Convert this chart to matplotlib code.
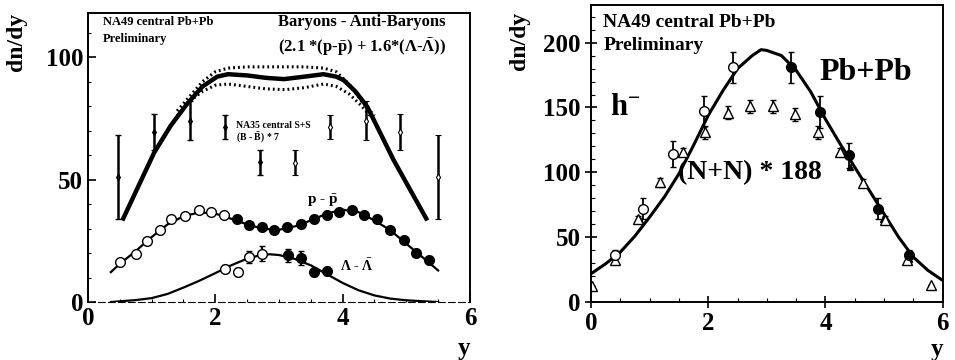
import numpy as np
import matplotlib
matplotlib.use("Agg")
import matplotlib.pyplot as plt

plt.rcParams['font.family'] = ['Liberation Serif', 'DejaVu Serif']
plt.rcParams['font.weight'] = 'bold'
plt.rcParams['mathtext.fontset'] = 'custom'
plt.rcParams['mathtext.rm'] = 'Liberation Serif:bold'
plt.rcParams['mathtext.it'] = 'Liberation Serif:bold'
plt.rcParams['mathtext.bf'] = 'Liberation Serif:bold'
plt.rcParams['mathtext.default'] = 'rm'

# ---------------- left panel: baryons - anti-baryons ----------------
# sum curve 2.1*(p-pbar) + 1.6*(L-Lbar)
sum_x = [0.54, 1.04, 1.3, 1.56, 1.8, 2.03, 2.2, 2.5, 2.8, 3.08, 3.4, 3.7, 3.9, 4.02, 4.2, 4.39, 4.8, 5.33]
sum_y = [33.3, 61, 72, 81, 88, 92, 93, 92.5, 91.5, 91, 92, 93, 92, 90.5, 86, 79.6, 58, 33.3]
band_x = [1.4, 1.6, 1.8, 2.0, 2.2, 2.5, 2.8, 3.1, 3.4, 3.7, 3.9, 4.1, 4.3, 4.5]
band_hi = [78, 84, 90, 94, 95.5, 96, 96, 96, 96, 95.5, 94, 89, 82, 76]
band_lo = [76, 82, 86, 88.5, 89, 88, 87, 86.7, 87.5, 89, 88, 85, 80, 74]

# NA35 S+S (B - Bbar) * 7
na35_x = [0.47, 1.04, 1.6, 2.16, 2.7]
na35_y = [51, 69.4, 74, 71.4, 57]
na35_err = [17, 7.5, 8, 5, 5]
na35r_x = [3.25, 3.8, 4.36, 4.9, 5.5]
na35r_y = [56.9, 71.4, 74, 69.4, 51]
na35r_err = [5, 5, 8, 7.5, 17]

# p - pbar
pp_open_x = [0.50, 0.75, 0.92, 1.13, 1.31, 1.52, 1.74, 1.93, 2.14]
pp_open_y = [16.3, 19.5, 24.9, 29.5, 34.0, 35.0, 37.4, 36.7, 35.4]
pp_fill_x = [2.34, 2.53, 2.73, 2.92, 3.13, 3.34, 3.55, 3.75, 3.94, 4.14, 4.34, 4.54, 4.75, 4.96, 5.15, 5.36]
pp_fill_y = [34.0, 31.3, 30.6, 29.3, 30.6, 31.7, 34.0, 35.4, 36.7, 37.7, 35.4, 34.0, 29.5, 25.4, 20.0, 17.0]
pp_fit_x = [0.36, 0.5, 0.75, 1.0, 1.25, 1.5, 1.75, 2.0, 2.25, 2.5, 2.75, 3.0, 3.25, 3.5,
            3.75, 4.0, 4.25, 4.5, 4.75, 5.0, 5.25, 5.5]
pp_fit_y = [12.2, 15.6, 20.8, 26.5, 31.7, 35.0, 36.6, 36.1, 34.0, 31.7, 29.9, 29.5, 30.9, 33.3,
            36.1, 37.7, 36.7, 33.3, 29.3, 23.8, 18.4, 12.9]

# Lambda - Lambdabar
la_open_x = [2.16, 2.35, 2.53, 2.74]
la_open_y = [13.6, 12.2, 18.4, 19.7]
la_open_err = [1.5, 1.5, 2.5, 3.0]
la_fill_x = [3.14, 3.34, 3.55, 3.75]
la_fill_y = [19.0, 18.1, 12.2, 12.7]
la_fill_err = [2.8, 2.8, 1.5, 1.5]
la_fit_x = [0.36, 0.75, 1.0, 1.25, 1.5, 1.75, 2.0, 2.25, 2.5, 2.7, 2.85, 3.0, 3.25, 3.5,
            3.75, 4.0, 4.25, 4.5, 4.75, 5.0, 5.5]
la_fit_y = [0.0, 0.8, 1.6, 3.3, 5.9, 8.7, 11.8, 15.0, 17.7, 19.1, 19.5, 19.2, 17.6, 15.0,
            11.4, 7.8, 4.8, 2.7, 1.4, 0.7, 0.0]

# ---------------- right panel: negative hadrons ----------------
h_fit_x = [0.0, 0.25, 0.5, 0.75, 1.0, 1.25, 1.5, 1.75, 2.0, 2.25, 2.5, 2.75, 2.9, 3.0,
           3.25, 3.5, 3.75, 4.0, 4.25, 4.5, 4.75, 5.0, 5.25, 5.5, 5.75, 6.0]
h_fit_y = [21.9, 29.6, 38.6, 51, 65.6, 81, 99, 121, 144, 163, 180, 190, 194.6, 194,
           190, 178.7, 162, 141, 122, 104, 86, 68, 50, 34.7, 24.4, 16.7]
h_open_x = [0.41, 0.89, 1.4, 1.93, 2.43]
h_open_y = [36, 72, 114, 147, 181]
h_open_err = [4, 8, 10, 12, 12]
h_fill_x = [3.41, 3.91, 4.41, 4.9, 5.42]
h_fill_y = [181, 146.5, 113, 72, 36]
h_fill_err = [12, 12, 10, 8, 4]
nn_x = [0.01, 0.4, 0.8, 1.18, 1.56, 1.95, 2.33, 2.71, 3.1, 3.48, 3.87, 4.25, 4.64, 5.02, 5.4, 5.81]
nn_y = [12, 32.6, 63.7, 92.5, 115.7, 131, 145.8, 151, 151, 144.7, 131, 115.7, 91.8, 63.5, 32.6, 12.9]
nn_err = [0, 3, 3, 3, 3, 5, 5, 5, 5, 5, 5, 3, 3, 3, 3, 0]
nnf_x = [0.41, 0.84, 1.2, 4.42, 4.98, 5.42]
nnf_y = [33, 63, 91, 104, 64, 33]

fig = plt.figure(figsize=(9.55, 3.6), dpi=100)
ax1 = fig.add_axes([0.0921, 0.161, 0.400, 0.803])
ax2 = fig.add_axes([0.619, 0.161, 0.368, 0.825])

# left
ax1.plot(sum_x, sum_y, color='black', lw=3.2, solid_capstyle='butt')
ax1.plot(band_x, band_hi, color='black', lw=2.2, ls=(0, (0.6, 1.0)))
ax1.plot(band_x, band_lo, color='black', lw=2.2, ls=(0, (0.6, 1.0)))
ax1.errorbar(na35_x, na35_y, yerr=na35_err, fmt='d', ms=3, color='black', mfc='black',
             elinewidth=1.8, capsize=2)
ax1.errorbar(na35r_x, na35r_y, yerr=na35r_err, fmt='d', ms=3.5, color='black', mfc='white',
             elinewidth=1.8, capsize=2, mew=0.8)
ax1.plot(pp_fit_x, pp_fit_y, color='black', lw=1.6)
ax1.plot(pp_open_x, pp_open_y, 'o', ms=7, mfc='white', mec='black', mew=1.0)
ax1.plot(pp_fill_x, pp_fill_y, 'o', ms=7, color='black')
ax1.plot(la_fit_x, la_fit_y, color='black', lw=1.6)
ax1.errorbar(la_open_x, la_open_y, yerr=la_open_err, fmt='o', ms=7, mfc='white', mec='black',
             color='black', capsize=2.5, mew=1.0)
ax1.errorbar(la_fill_x, la_fill_y, yerr=la_fill_err, fmt='o', ms=7, color='black', capsize=2.5)

ax1.set_xlim(0, 6)
ax1.set_ylim(0, 118)
ax1.set_xticks([0, 2, 4, 6])
ax1.set_yticks([0, 50, 100])
ax1.set_xticks(np.arange(0, 6.01, 0.5), minor=True)
ax1.set_yticks(np.arange(0, 118, 10), minor=True)
ax1.tick_params(direction='in', length=6, width=1.2, labelsize=18)
ax1.tick_params(which='minor', direction='in', length=2, width=0.8)
ax1.set_ylabel('dn/dy', fontsize=17, fontweight='bold')
ax1.yaxis.set_label_coords(-0.16, 0.9)
ax1.set_xlabel('y', fontsize=18, fontweight='bold')
ax1.xaxis.set_label_coords(0.985, -0.12)
for s in ax1.spines.values():
    s.set_linewidth(1.4)
ax1.spines['bottom'].set_linestyle((0, (6, 3)))
ax1.spines['bottom'].set_linewidth(0.8)

ax1.text(0.04, 0.969, 'NA49 central Pb+Pb', transform=ax1.transAxes, fontsize=9, va='center')
ax1.text(0.04, 0.91, 'Preliminary', transform=ax1.transAxes, fontsize=9, va='center')
ax1.text(0.717, 0.969, 'Baryons - Anti-Baryons', transform=ax1.transAxes, fontsize=12,
         ha='center', va='center')
ax1.text(0.717, 0.882, r'(2.1 *(p-$\bar{p}$) + 1.6*($\Lambda$-$\bar{\Lambda}$))',
         transform=ax1.transAxes, fontsize=12, ha='center', va='center')
ax1.text(2.32, 72, 'NA35 central S+S', fontsize=7, va='center')
ax1.text(2.32, 67, r'(B - $\bar{B}$) * 7', fontsize=7, va='center')
ax1.text(3.44, 41.5, r'p - $\bar{p}$', fontsize=11, va='center')
ax1.text(3.96, 15, r'$\Lambda$ - $\bar{\Lambda}$', fontsize=10, va='center')

# right
ax2.plot(h_fit_x, h_fit_y, color='black', lw=2.2)
ax2.errorbar(nn_x, nn_y, yerr=nn_err, fmt='^', ms=7, mfc='white', mec='black', color='black',
             capsize=2.5, mew=1.0, elinewidth=1.3)
ax2.plot(nnf_x, nnf_y, '^', ms=5, color='black')
ax2.errorbar(h_open_x, h_open_y, yerr=h_open_err, fmt='o', ms=7, mfc='white', mec='black',
             color='black', capsize=2.5, mew=1.0, elinewidth=1.3)
ax2.errorbar(h_fill_x, h_fill_y, yerr=h_fill_err, fmt='o', ms=7, color='black', capsize=2.5,
             elinewidth=1.3)

ax2.set_xlim(0, 6)
ax2.set_ylim(0, 229)
ax2.set_xticks([0, 2, 4, 6])
ax2.set_yticks([0, 50, 100, 150, 200])
ax2.set_xticks(np.arange(0, 6.01, 0.5), minor=True)
ax2.set_yticks(np.arange(0, 229, 10), minor=True)
ax2.tick_params(direction='inout', length=8, width=1.2, labelsize=18)
ax2.tick_params(which='minor', direction='in', length=3, width=0.8)
ax2.set_ylabel('dn/dy', fontsize=17, fontweight='bold')
ax2.yaxis.set_label_coords(-0.173, 0.88)
ax2.set_xlabel('y', fontsize=18, fontweight='bold')
ax2.xaxis.set_label_coords(0.985, -0.12)
for s in ax2.spines.values():
    s.set_linewidth(1.4)

ax2.text(0.035, 0.94, 'NA49 central Pb+Pb', transform=ax2.transAxes, fontsize=14, va='center')
ax2.text(0.035, 0.865, 'Preliminary', transform=ax2.transAxes, fontsize=14, va='center')
ax2.text(0.32, 150, r'h$^{-}$', fontsize=22, va='center')
ax2.text(3.9, 177, 'Pb+Pb', fontsize=23, va='center')
ax2.text(1.49, 100, '(N+N) * 188', fontsize=20, va='center')

fig.savefig('out.png', dpi=100)
